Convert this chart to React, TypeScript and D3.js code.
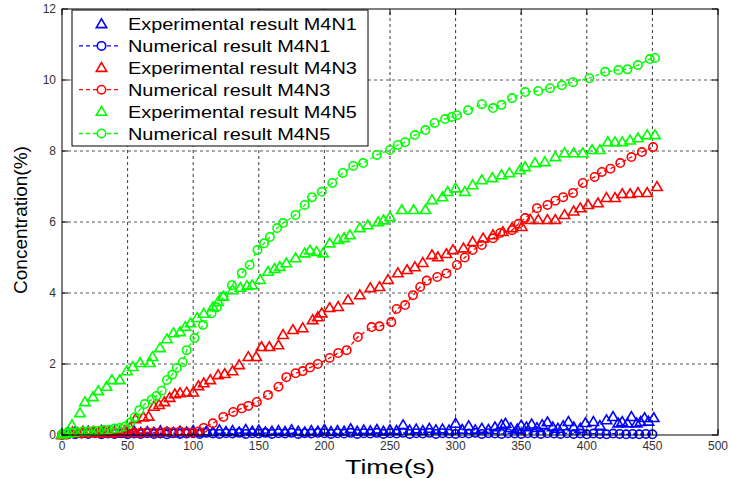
import * as d3 from "d3";

// ---- data (time in s, concentration in %) ----
const expM4N1: [number, number][] = [
  [0, 0.02], [5, 0.06], [10, 0.08], [15, 0.05], [20, 0.1], [25, 0.07], [30, 0.12], [35, 0.06],
  [40, 0.09], [45, 0.05], [50, 0.08], [55, 0.1], [60, 0.06], [65, 0.09], [70, 0.07], [75, 0.11],
  [80, 0.08], [85, 0.06], [90, 0.1], [95, 0.08], [100, 0.12], [105, 0.07], [110, 0.1], [115, 0.08],
  [120, 0.14], [125, 0.09], [130, 0.12], [135, 0.08], [140, 0.15], [145, 0.1], [150, 0.13],
  [155, 0.08], [160, 0.1], [165, 0.12], [170, 0.09], [175, 0.14], [180, 0.1], [185, 0.08],
  [190, 0.12], [195, 0.1], [200, 0.15], [205, 0.09], [210, 0.12], [215, 0.1], [220, 0.17],
  [225, 0.1], [230, 0.13], [235, 0.11], [240, 0.15], [245, 0.1], [250, 0.14], [255, 0.12],
  [260, 0.28], [265, 0.13], [270, 0.16], [275, 0.12], [280, 0.18], [285, 0.14], [290, 0.16],
  [295, 0.13], [300, 0.32], [305, 0.15], [310, 0.25], [315, 0.14], [320, 0.18], [325, 0.15],
  [330, 0.22], [335, 0.28], [338, 0.32], [342, 0.2], [347, 0.16], [350, 0.27], [354, 0.22],
  [358, 0.3], [362, 0.2], [366, 0.28], [370, 0.36], [374, 0.22], [378, 0.18], [382, 0.25],
  [386, 0.37], [390, 0.22], [395, 0.18], [399, 0.34], [405, 0.37], [410, 0.26], [415, 0.42],
  [420, 0.51], [424, 0.33], [427, 0.37], [431, 0.33], [434, 0.51], [438, 0.33], [441, 0.37],
  [444, 0.48], [447, 0.38], [451, 0.48],
];

const numM4N1: [number, number][] = [
  [0, 0.01], [5, 0.03], [10, 0.02], [15, 0.04], [20, 0.03], [25, 0.05], [30, 0.02], [35, 0.04],
  [40, 0.03], [45, 0.05], [50, 0.02], [55, 0.04], [60, 0.03], [65, 0.05], [70, 0.03], [75, 0.04],
  [80, 0.02], [85, 0.05], [90, 0.03], [95, 0.04], [100, 0.05], [105, 0.03], [110, 0.06],
  [115, 0.04], [120, 0.03], [125, 0.05], [130, 0.04], [135, 0.06], [140, 0.03], [145, 0.05],
  [150, 0.04], [155, 0.06], [160, 0.03], [165, 0.05], [170, 0.04], [175, 0.06], [180, 0.03],
  [185, 0.05], [190, 0.04], [195, 0.06], [200, 0.05], [205, 0.03], [210, 0.05], [215, 0.04],
  [220, 0.06], [225, 0.03], [230, 0.05], [235, 0.04], [240, 0.06], [245, 0.03], [250, 0.05],
  [255, 0.04], [260, 0.06], [265, 0.03], [270, 0.05], [275, 0.04], [280, 0.06], [285, 0.03],
  [290, 0.05], [295, 0.04], [300, 0.03], [305, 0.05], [310, 0.04], [315, 0.06], [320, 0.03],
  [325, 0.05], [330, 0.04], [335, 0.03], [340, 0.05], [345, 0.04], [350, 0.03], [355, 0.05],
  [360, 0.04], [365, 0.03], [370, 0.05], [375, 0.04], [380, 0.03], [385, 0.05], [390, 0.03],
  [395, 0.04], [400, 0.02], [405, 0.04], [410, 0.03], [415, 0.02], [420, 0.04], [425, 0.03],
  [430, 0.02], [435, 0.03], [440, 0.02], [445, 0.03], [450, 0.02],
];

const expM4N3: [number, number][] = [
  [0, 0.0], [4, 0.05], [8, 0.08], [12, 0.06], [16, 0.1], [20, 0.07], [24, 0.09], [28, 0.06],
  [32, 0.1], [36, 0.08], [40, 0.07], [44, 0.1], [48, 0.12], [52, 0.2], [56, 0.45], [62, 0.5],
  [66, 0.52], [70, 0.8], [74, 0.85], [78, 0.93], [82, 1.05], [86, 1.15], [90, 1.18], [95, 1.2],
  [100, 1.2], [104, 1.38], [108, 1.46], [113, 1.55], [119, 1.69], [124, 1.72], [130, 1.8],
  [135, 1.97], [142, 2.2], [148, 2.2], [152, 2.48], [158, 2.48], [165, 2.53], [168.5, 2.82],
  [176, 2.96], [183.5, 3.01], [191, 3.24], [195, 3.32], [198, 3.43], [204, 3.58], [210.5, 3.61],
  [218, 3.8], [227, 3.94], [235, 4.14], [242, 4.17], [248.5, 4.37], [256, 4.56], [263, 4.65],
  [269, 4.73], [275, 4.85], [282, 5.07], [286.5, 5.01], [293, 5.1], [298, 5.21], [306, 5.26],
  [313, 5.44], [321, 5.54], [328.5, 5.63], [336, 5.72], [343, 5.83], [350.5, 5.86], [357, 6.06],
  [363, 6.06], [370, 6.06], [376, 6.06], [383, 6.2], [390, 6.3], [395, 6.39], [401, 6.48],
  [408.5, 6.53], [415, 6.68], [421.5, 6.68], [427, 6.79], [433, 6.79], [439, 6.82], [446, 6.82],
  [453.5, 6.99],
];

const numM4N3: [number, number][] = [
  [0, 0.01], [5, 0.03], [10, 0.05], [15, 0.04], [20, 0.05], [25, 0.06], [30, 0.05], [35, 0.06],
  [40, 0.05], [45, 0.07], [50, 0.06], [55, 0.07], [60, 0.06], [65, 0.08], [70, 0.07], [75, 0.08],
  [80, 0.09], [85, 0.08], [90, 0.1], [95, 0.08], [100, 0.07], [104, 0.1], [108, 0.2], [115, 0.33],
  [123, 0.51], [130.5, 0.65], [137, 0.75], [142, 0.82], [148.5, 0.93], [157, 1.13], [165, 1.36],
  [171, 1.63], [178, 1.74], [183.5, 1.8], [189, 1.9], [195, 2.0], [204, 2.17], [210.5, 2.31],
  [217, 2.39], [225.5, 2.76], [236, 3.04], [242, 3.06], [251, 3.18], [255, 3.55], [261.5, 3.66],
  [267.5, 3.94], [273, 4.17], [278, 4.35], [286, 4.45], [293, 4.55], [301, 4.79], [307, 5.0],
  [313, 5.21], [320, 5.35], [328.5, 5.54], [334, 5.69], [343, 5.77], [348, 5.95], [353, 6.11],
  [362, 6.39], [370, 6.48], [376, 6.6], [382, 6.7], [389.5, 6.82], [397, 7.1], [406, 7.27],
  [411.5, 7.41], [418, 7.5], [425.5, 7.66], [434, 7.83], [442, 7.97], [450.5, 8.11],
];

const expM4N5: [number, number][] = [
  [0, 0.02], [3, 0.05], [7.6, 0.28], [13.7, 0.62], [17.5, 0.93], [23.6, 1.07], [27.6, 1.24],
  [34, 1.36], [38, 1.55], [44, 1.55], [49.5, 1.8], [54, 1.92], [59.5, 2.03], [67, 2.03], [69, 2.2],
  [74.7, 2.45], [80, 2.7], [85, 2.87], [90, 2.9], [94, 3.05], [98, 3.15], [103, 3.3], [108, 3.42],
  [115, 3.6], [119, 3.75], [123, 3.9], [130, 4.08], [136, 4.15], [141, 4.2], [145, 4.22],
  [151, 4.37], [157, 4.6], [162, 4.68], [166, 4.74], [171, 4.84], [178, 4.98], [185, 5.12],
  [189, 5.2], [194, 5.16], [199, 5.12], [204, 5.4], [210.5, 5.5], [215, 5.55], [219.5, 5.63],
  [227, 5.83], [233, 5.91], [241, 6.0], [245, 6.05], [250, 6.14], [259, 6.34], [268, 6.34],
  [277, 6.34], [282, 6.62], [290, 6.7], [294, 6.85], [300, 6.95], [307, 6.85], [313, 7.04],
  [320, 7.18], [328, 7.24], [335, 7.32], [341, 7.38], [349, 7.46], [353, 7.55], [360.5, 7.66],
  [368, 7.69], [376, 7.83], [383, 7.94], [390, 7.94], [397, 7.94], [404, 8.03], [410, 8.03],
  [416, 8.25], [421.5, 8.25], [427, 8.25], [433, 8.3], [439, 8.36], [446, 8.45], [452, 8.45],
];

const numM4N5: [number, number][] = [
  [0, 0.02], [4, 0.04], [8, 0.06], [12, 0.08], [16, 0.1], [20, 0.1], [24, 0.12], [28, 0.12],
  [32, 0.14], [36, 0.15], [40, 0.18], [44, 0.2], [48, 0.24], [52, 0.35], [55.5, 0.5], [59, 0.7],
  [63, 0.87], [68.5, 1.0], [72, 1.1], [76, 1.25], [80, 1.55], [84, 1.7], [87.5, 1.89], [92, 2.05],
  [95, 2.39], [101, 2.73], [107.5, 3.1], [114, 3.43], [118, 3.6], [123, 3.9], [129.5, 4.22],
  [137, 4.56], [143, 4.79], [149, 5.21], [154, 5.4], [158.5, 5.58], [164, 5.83], [168.5, 5.97],
  [178, 6.2], [185, 6.48], [190.5, 6.7], [198, 6.85], [206, 7.1], [214, 7.38], [222, 7.58],
  [229.5, 7.66], [240, 7.89], [250, 8.03], [256, 8.17], [261.5, 8.25], [269, 8.45], [277, 8.59],
  [284, 8.79], [292, 8.9], [297, 8.96], [301, 9.01], [309.5, 9.15], [320, 9.32], [328.5, 9.21],
  [335, 9.3], [343, 9.49], [353, 9.66], [363, 9.69], [372, 9.77], [381, 9.85], [389.5, 9.94],
  [402, 10.05], [414, 10.23], [424, 10.28], [431, 10.3], [439, 10.42], [448, 10.59], [452, 10.62],
];

const xTicks = [0, 50, 100, 150, 200, 250, 300, 350, 400, 450, 500];
const yTicks = [0, 2, 4, 6, 8, 10, 12];

type Series = {
  label: string;
  color: string;
  kind: "exp" | "num";
  data: [number, number][];
};

const series: Series[] = [
  { label: "Experimental result M4N1", color: "#0000ff", kind: "exp", data: expM4N1 },
  { label: "Numerical result M4N1", color: "#0000ff", kind: "num", data: numM4N1 },
  { label: "Experimental result M4N3", color: "#ff0000", kind: "exp", data: expM4N3 },
  { label: "Numerical result M4N3", color: "#ff0000", kind: "num", data: numM4N3 },
  { label: "Experimental result M4N5", color: "#00ff00", kind: "exp", data: expM4N5 },
  { label: "Numerical result M4N5", color: "#00ff00", kind: "num", data: numM4N5 },
];

const W = 731;
const H = 479;
const margin = { left: 62, right: 13, top: 9, bottom: 44 };

const triPath = "M0,-5.2L5.2,3.6L-5.2,3.6Z";

export default function App() {
  const x = d3.scaleLinear().domain([0, 500]).range([margin.left, W - margin.right]);
  const y = d3.scaleLinear().domain([0, 12]).range([H - margin.bottom, margin.top]);
  const line = d3
    .line<[number, number]>()
    .x((d) => x(d[0]))
    .y((d) => y(d[1]));

  const x0 = x(0);
  const x1 = x(500);
  const y0 = y(0);
  const y1 = y(12);

  const legend = { x: 72, y: 10, w: 296, h: 136, row: 21.9 };

  return (
    <svg
      width={W}
      height={H}
      style={{ position: "absolute", left: 0, top: 0, background: "#fff" }}
      fontFamily="'Liberation Sans', Arial, sans-serif"
    >
      <rect x={0} y={0} width={W} height={H} fill="#fff" />
      {/* grid */}
      {xTicks.slice(1, -1).map((t) => (
        <line key={"gx" + t} x1={x(t)} x2={x(t)} y1={y0} y2={y1} stroke="#222" strokeWidth={0.9} strokeDasharray="3,3" />
      ))}
      {yTicks.slice(1, -1).map((t) => (
        <line key={"gy" + t} x1={x0} x2={x1} y1={y(t)} y2={y(t)} stroke="#444" strokeWidth={0.9} strokeDasharray="3,3" />
      ))}

      {/* series */}
      {series.map((s, i) =>
        s.kind === "num" ? (
          <g key={i} stroke={s.color} fill="none" strokeWidth={1.6}>
            <path d={line(s.data) ?? ""} strokeDasharray="4,3" strokeWidth={1.3} />
            {s.data.map((d, j) => (
              <circle key={j} cx={x(d[0])} cy={y(d[1])} r={4.2} />
            ))}
          </g>
        ) : (
          <g key={i} stroke={s.color} fill="none" strokeWidth={1.6}>
            {s.data.map((d, j) => (
              <path key={j} d={triPath} transform={`translate(${x(d[0])},${y(d[1])})`} />
            ))}
          </g>
        )
      )}

      {/* axes box */}
      <rect x={x0} y={y1} width={x1 - x0} height={y0 - y1} fill="none" stroke="#000" strokeWidth={1} />
      {xTicks.map((t) => (
        <g key={"tx" + t}>
          <line x1={x(t)} x2={x(t)} y1={y0} y2={y0 - 6} stroke="#000" />
          <line x1={x(t)} x2={x(t)} y1={y1} y2={y1 + 6} stroke="#000" />
          <text x={x(t)} y={y0 + 15} textAnchor="middle" fontSize={12} fill="#333">
            {t}
          </text>
        </g>
      ))}
      {yTicks.map((t) => (
        <g key={"ty" + t}>
          <line x1={x0} x2={x0 + 6} y1={y(t)} y2={y(t)} stroke="#000" />
          <line x1={x1} x2={x1 - 6} y1={y(t)} y2={y(t)} stroke="#000" />
          <text x={x0 - 6} y={y(t) + 4} textAnchor="end" fontSize={12} fill="#333">
            {t}
          </text>
        </g>
      ))}

      {/* axis titles */}
      <text x={(x0 + x1) / 2} y={474} textAnchor="middle" fontSize={20} fill="#000" textLength={90} lengthAdjust="spacingAndGlyphs">
        Time(s)
      </text>
      <text
        transform={`translate(27,${(y0 + y1) / 2 - 2}) rotate(-90)`}
        textAnchor="middle"
        fontSize={19}
        fill="#000"
      >
        Concentration(%)
      </text>

      {/* legend */}
      <rect x={legend.x} y={legend.y} width={legend.w} height={legend.h} fill="#fff" stroke="#000" strokeWidth={1} />
      {series.map((s, i) => {
        const cy = legend.y + 14 + i * legend.row;
        return (
          <g key={"lg" + i}>
            {s.kind === "num" ? (
              <g stroke={s.color} fill="none" strokeWidth={1.6}>
                <line x1={79} x2={120} y1={cy} y2={cy} strokeDasharray="4,3" strokeWidth={1.3} />
                <circle cx={101.5} cy={cy} r={4.2} fill="#fff" />
              </g>
            ) : (
              <path d={triPath} transform={`translate(101.5,${cy})`} stroke={s.color} fill="none" strokeWidth={1.6} />
            )}
            <g transform={`translate(128,${cy + 6}) scale(1.17,1)`}>
              <text x={0} y={0} fontSize={17} fill="#000">
                {s.label}
              </text>
            </g>
          </g>
        );
      })}
    </svg>
  );
}
